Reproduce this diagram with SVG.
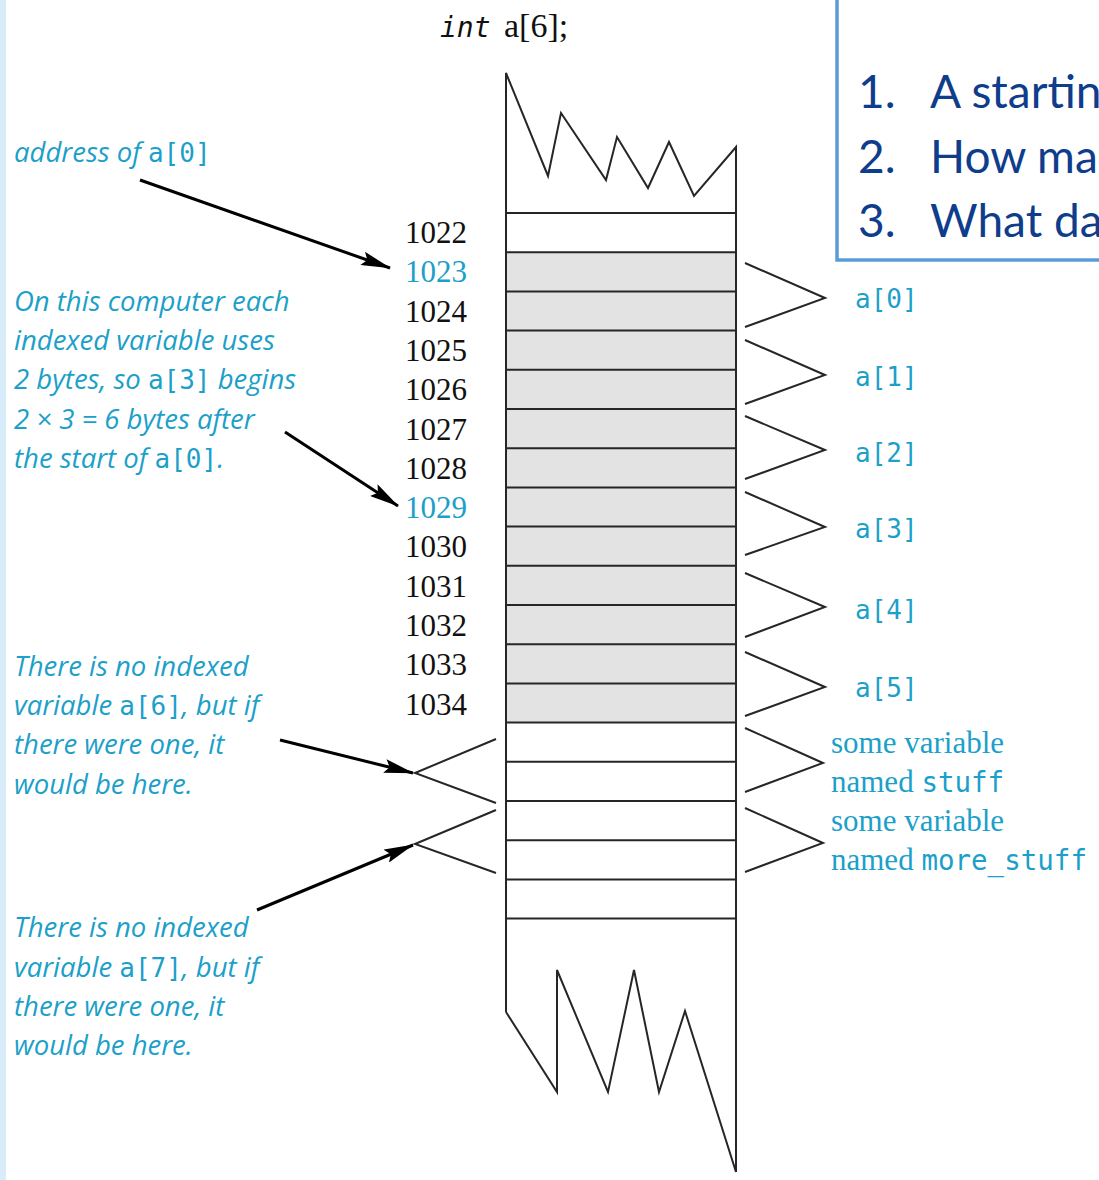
<svg xmlns="http://www.w3.org/2000/svg" width="1099" height="1180" viewBox="0 0 1099 1180">
<defs>
<marker id="ah" viewBox="0 0 30 14" refX="29" refY="7" markerWidth="30" markerHeight="14" markerUnits="userSpaceOnUse" orient="auto">
<path d="M0,0 L30,7 L0,14 L5,7 z" fill="#000"/>
</marker>
<style>
.ln{stroke:#262626;stroke-width:2;fill:none;stroke-linejoin:miter}
.cell{stroke:#262626;stroke-width:2}
.addr{font-family:"Liberation Serif",serif;font-size:31px;fill:#111}
.hl{fill:#1c9fc9}
.note{font-family:"Open Sans",sans-serif;font-style:italic;font-size:27.5px;fill:#1c9fc9}
.mono{font-family:"DejaVu Sans Mono",monospace;font-style:normal;font-size:26px}
.lbl{font-family:"DejaVu Sans Mono",monospace;font-size:26px;fill:#1c9fc9}
.ser{font-family:"Liberation Serif",serif;font-size:31px;fill:#1c9fc9}
.box{font-family:Lato,"Open Sans",sans-serif;font-size:46px;fill:#0e3d8c}
.arr{stroke:#000;stroke-width:3;fill:none;marker-end:url(#ah)}
</style>
</defs>
<rect x="0" y="0" width="1099" height="1180" fill="#fff"/>
<rect x="0" y="0" width="6" height="1180" fill="#d9ecf9"/>

<g id="title">
<text x="440" y="37" font-family="DejaVu Sans Mono,monospace" font-style="italic" font-size="28" fill="#111">int</text>
<text x="504" y="37" font-family="Liberation Serif,serif" font-size="34" fill="#111">a[6];</text>
</g>

<g id="question-box">
<rect x="837" y="-10" width="300" height="270" fill="#fff" stroke="#5b9bd5" stroke-width="3.5"/>
<text class="box" x="858" y="108">1.</text><text class="box" x="930" y="108">A startin</text>
<text class="box" x="858" y="173">2.</text><text class="box" x="930" y="173">How ma</text>
<text class="box" x="858" y="237">3.</text><text class="box" x="930" y="237">What da</text>
</g>

<g id="memory-column">
<rect x="506" y="252.2" width="230" height="470.4" fill="#e3e3e3"/>
<g class="cell">
<line x1="506" y1="213" x2="736" y2="213"/>
<line x1="506" y1="252.2" x2="736" y2="252.2"/>
<line x1="506" y1="291.4" x2="736" y2="291.4"/>
<line x1="506" y1="330.6" x2="736" y2="330.6"/>
<line x1="506" y1="369.8" x2="736" y2="369.8"/>
<line x1="506" y1="409" x2="736" y2="409"/>
<line x1="506" y1="448.2" x2="736" y2="448.2"/>
<line x1="506" y1="487.4" x2="736" y2="487.4"/>
<line x1="506" y1="526.6" x2="736" y2="526.6"/>
<line x1="506" y1="565.8" x2="736" y2="565.8"/>
<line x1="506" y1="605" x2="736" y2="605"/>
<line x1="506" y1="644.2" x2="736" y2="644.2"/>
<line x1="506" y1="683.4" x2="736" y2="683.4"/>
<line x1="506" y1="722.6" x2="736" y2="722.6"/>
<line x1="506" y1="761.8" x2="736" y2="761.8"/>
<line x1="506" y1="801" x2="736" y2="801"/>
<line x1="506" y1="840.2" x2="736" y2="840.2"/>
<line x1="506" y1="879.4" x2="736" y2="879.4"/>
<line x1="506" y1="918.6" x2="736" y2="918.6"/>
</g>
<polyline class="ln" points="506,1012 506,73 548,176 561,113 606,180 617,137 648,188 669,142 694,196 736,147 736,1172"/>
<polyline class="ln" points="506,1012 557,1092 557,970 608,1092 634,970 659,1092 685,1011 736,1172"/>
</g>

<g id="addresses">
<text class="addr" x="405" y="243">1022</text>
<text class="addr hl" x="405" y="282.3">1023</text>
<text class="addr" x="405" y="321.6">1024</text>
<text class="addr" x="405" y="360.9">1025</text>
<text class="addr" x="405" y="400.2">1026</text>
<text class="addr" x="405" y="439.5">1027</text>
<text class="addr" x="405" y="478.8">1028</text>
<text class="addr hl" x="405" y="518.1">1029</text>
<text class="addr" x="405" y="557.4">1030</text>
<text class="addr" x="405" y="596.7">1031</text>
<text class="addr" x="405" y="636">1032</text>
<text class="addr" x="405" y="675.3">1033</text>
<text class="addr" x="405" y="714.6">1034</text>
</g>

<g id="braces-right">
<polyline class="ln" points="745,263 825,298 745,327"/>
<polyline class="ln" points="745,340 825,375 745,404"/>
<polyline class="ln" points="745,416 825,450 745,479"/>
<polyline class="ln" points="745,492 825,527 745,555"/>
<polyline class="ln" points="745,573 825,607 745,637"/>
<polyline class="ln" points="745,652 825,687 745,716"/>
<polyline class="ln" points="745,728 823,763 745,792"/>
<polyline class="ln" points="745,808 823,843 745,872"/>
</g>

<g id="braces-left">
<polyline class="ln" points="496,739 415,773 496,803"/>
<polyline class="ln" points="496,810 415,844 496,873"/>
</g>

<g id="element-labels">
<text class="lbl" x="855" y="308">a[0]</text>
<text class="lbl" x="855" y="386">a[1]</text>
<text class="lbl" x="855" y="462">a[2]</text>
<text class="lbl" x="855" y="538">a[3]</text>
<text class="lbl" x="855" y="619">a[4]</text>
<text class="lbl" x="855" y="697">a[5]</text>
</g>

<g id="other-vars">
<text class="ser" x="831" y="753">some variable</text>
<text class="ser" x="831" y="792">named <tspan font-family="DejaVu Sans Mono,monospace" font-size="27.5">stuff</tspan></text>
<text class="ser" x="831" y="831">some variable</text>
<text class="ser" x="831" y="870">named <tspan font-family="DejaVu Sans Mono,monospace" font-size="27.5">more_stuff</tspan></text>
</g>

<g id="note-address">
<text class="note" x="14" y="162">address of <tspan class="mono">a[0]</tspan></text>
</g>

<g id="note-bytes">
<text class="note" x="14" y="311">On this computer each</text>
<text class="note" x="14" y="350">indexed variable uses</text>
<text class="note" x="14" y="389">2 bytes, so <tspan class="mono">a[3]</tspan> begins</text>
<text class="note" x="14" y="429">2 × 3 = 6 bytes after</text>
<text class="note" x="14" y="468">the start of <tspan class="mono">a[0]</tspan>.</text>
</g>

<g id="note-a6">
<text class="note" x="14" y="676">There is no indexed</text>
<text class="note" x="14" y="715">variable <tspan class="mono">a[6]</tspan>, but if</text>
<text class="note" x="14" y="754">there were one, it</text>
<text class="note" x="14" y="794">would be here.</text>
</g>

<g id="note-a7">
<text class="note" x="14" y="937">There is no indexed</text>
<text class="note" x="14" y="977">variable <tspan class="mono">a[7]</tspan>, but if</text>
<text class="note" x="14" y="1016">there were one, it</text>
<text class="note" x="14" y="1055">would be here.</text>
</g>

<g id="connectors">
<path class="arr" d="M140,180 L390,268"/>
<path class="arr" d="M285,432 L398,506"/>
<path class="arr" d="M280,740 L413,773"/>
<path class="arr" d="M257,910 L413,845"/>
</g>
</svg>
